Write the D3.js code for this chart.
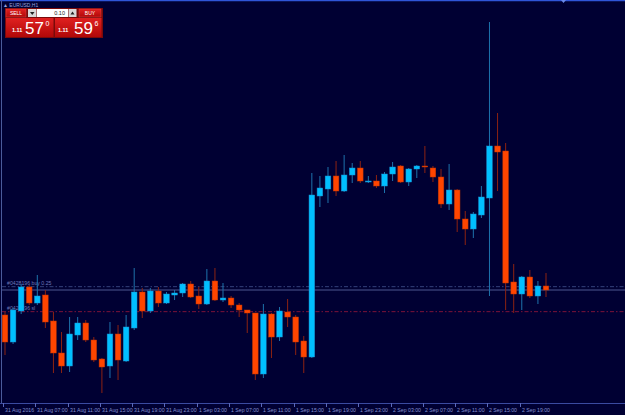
<!DOCTYPE html>
<html>
<head>
<meta charset="utf-8">
<script src="https://cdn.jsdelivr.net/npm/d3@7"></script>
<style>
    html, body { margin: 0; padding: 0; background: #000033; overflow: hidden; }
    svg { display: block; }
</style>
</head>
<body>
<svg id="chart" width="625" height="415"></svg>
<script>
// EURUSD H1 bars (first bar 31 Aug 03:00)
const opens = [
    1.11495, 1.11414, 1.11507, 1.11579, 1.11531, 1.11555, 1.11477, 1.11381, 1.11342, 1.11435,
    1.11471, 1.11420, 1.11363, 1.11342, 1.11438, 1.11357, 1.11456, 1.11564, 1.11507, 1.11567,
    1.11531, 1.11555, 1.11561, 1.11588, 1.11552, 1.11528, 1.11597, 1.11540, 1.11546, 1.11525,
    1.11510, 1.11501, 1.11318, 1.11498, 1.11429, 1.11504, 1.11489, 1.11417, 1.11369, 1.11852,
    1.11873, 1.11912, 1.11867, 1.11915, 1.11936, 1.11894, 1.11897, 1.11882, 1.11918, 1.11942,
    1.11894, 1.11933, 1.11942, 1.11936, 1.11909, 1.11828, 1.11870, 1.11783, 1.11753, 1.11795,
    1.11846, 1.12002, 1.11987, 1.11594, 1.11558, 1.11609, 1.11552, 1.11582
];
const highs = [
    1.11504, 1.11516, 1.11588, 1.11585, 1.11615, 1.11570, 1.11504, 1.11444, 1.11489, 1.11489,
    1.11480, 1.11429, 1.11366, 1.11474, 1.11465, 1.11495, 1.11636, 1.11576, 1.11576, 1.11579,
    1.11564, 1.11570, 1.11591, 1.11597, 1.11579, 1.11633, 1.11636, 1.11591, 1.11552, 1.11531,
    1.11510, 1.11501, 1.11528, 1.11501, 1.11519, 1.11543, 1.11495, 1.11432, 1.11921, 1.11912,
    1.11939, 1.11957, 1.11975, 1.11951, 1.11957, 1.11912, 1.11915, 1.11924, 1.11954, 1.11945,
    1.11936, 1.11945, 1.12002, 1.11942, 1.11933, 1.11948, 1.11873, 1.11807, 1.11804, 1.11882,
    1.12374, 1.12101, 1.12011, 1.11648, 1.11612, 1.11630, 1.11597, 1.11621
];
const lows = [
    1.11375, 1.11408, 1.11498, 1.11525, 1.11525, 1.11456, 1.11321, 1.11321, 1.11324, 1.11420,
    1.11414, 1.11354, 1.11261, 1.11306, 1.11300, 1.11354, 1.11450, 1.11486, 1.11501, 1.11519,
    1.11528, 1.11540, 1.11549, 1.11546, 1.11513, 1.11525, 1.11537, 1.11534, 1.11516, 1.11489,
    1.11441, 1.11300, 1.11306, 1.11366, 1.11417, 1.11459, 1.11375, 1.11321, 1.11366, 1.11819,
    1.11831, 1.11852, 1.11864, 1.11891, 1.11891, 1.11891, 1.11876, 1.11861, 1.11897, 1.11891,
    1.11882, 1.11906, 1.11921, 1.11894, 1.11816, 1.11810, 1.11744, 1.11705, 1.11726, 1.11786,
    1.11552, 1.11867, 1.11510, 1.11501, 1.11510, 1.11546, 1.11528, 1.11549
];
const closes = [
    1.11414, 1.11510, 1.11579, 1.11531, 1.11552, 1.11474, 1.11381, 1.11342, 1.11438, 1.11471,
    1.11420, 1.11360, 1.11339, 1.11438, 1.11360, 1.11459, 1.11564, 1.11507, 1.11567, 1.11531,
    1.11558, 1.11561, 1.11588, 1.11549, 1.11528, 1.11597, 1.11540, 1.11546, 1.11525, 1.11510,
    1.11501, 1.11318, 1.11498, 1.11429, 1.11507, 1.11489, 1.11414, 1.11369, 1.11855, 1.11876,
    1.11912, 1.11867, 1.11915, 1.11936, 1.11897, 1.11897, 1.11882, 1.11918, 1.11939, 1.11894,
    1.11933, 1.11942, 1.11939, 1.11909, 1.11828, 1.11870, 1.11783, 1.11753, 1.11798, 1.11849,
    1.12002, 1.11984, 1.11591, 1.11558, 1.11609, 1.11552, 1.11582, 1.11570
];

// time axis labels, one every 4 bars
const tickBars = [0, 4, 8, 12, 16, 20, 24, 28, 32, 36, 40, 44, 48, 52, 56, 60, 64];
const tickLabels = [
    '31 Aug 2016', '31 Aug 07:00', '31 Aug 11:00', '31 Aug 15:00', '31 Aug 19:00', '31 Aug 23:00',
    '1 Sep 03:00', '1 Sep 07:00', '1 Sep 11:00', '1 Sep 15:00', '1 Sep 19:00', '1 Sep 23:00',
    '2 Sep 03:00', '2 Sep 07:00', '2 Sep 11:00', '2 Sep 15:00', '2 Sep 19:00'
];

// order / price lines
const bidPrice = 1.11570;
const buyPrice = 1.11580;
const slPrice = 1.11505;
const orderLabels = ['#0428196 buy 0.25', '#0428196 sl'];

const bars = opens.map((o, i) => ({ i, o, h: highs[i], l: lows[i], c: closes[i] }));

const W = 625, H = 415;
const axisY = 403;
const svg = d3.select('#chart');

svg.append('rect').attr('width', W).attr('height', H).attr('fill', '#000033');

const x = d3.scaleLinear().domain([0, 67]).range([5, 546]);
const y = d3.scaleLinear().domain([1.11195, 1.12440]).range([H, 0]);

// frame
svg.append('line').attr('x1', 0).attr('x2', W).attr('y1', 0.5).attr('y2', 0.5)
    .attr('stroke', '#2f55d8').attr('stroke-width', 1.5);
svg.append('line').attr('x1', 1.5).attr('x2', 1.5).attr('y1', 0).attr('y2', axisY)
    .attr('stroke', '#4a5a9a').attr('stroke-width', 1);
svg.append('path').attr('d', 'M561,0 L566,0 L563.5,3 Z').attr('fill', '#6a8ae8');

// price lines
const lineG = svg.append('g');
lineG.append('line')
    .attr('x1', 2).attr('x2', W)
    .attr('y1', y(buyPrice)).attr('y2', y(buyPrice))
    .attr('stroke', '#34407a').attr('stroke-dasharray', '4,2,1.5,2');
lineG.append('line')
    .attr('x1', 2).attr('x2', W)
    .attr('y1', y(bidPrice)).attr('y2', y(bidPrice))
    .attr('stroke', '#4c5690').attr('stroke-width', 1);
lineG.append('line')
    .attr('x1', 2).attr('x2', W)
    .attr('y1', y(slPrice)).attr('y2', y(slPrice))
    .attr('stroke', '#7c1238').attr('stroke-dasharray', '4,2,1.5,2');

lineG.selectAll('text.order')
    .data([buyPrice, slPrice])
    .enter().append('text')
    .attr('x', 7)
    .attr('y', d => y(d) - 2)
    .attr('font-family', 'Liberation Sans, Arial, sans-serif')
    .attr('font-size', 5.2)
    .attr('fill', '#6c78b8')
    .text((d, i) => orderLabels[i]);

// candles
const bw = 5.6;
const upBody = '#00bfff', upWick = '#1d72ac';
const dnBody = '#ff4500', dnWick = '#8c2212';

const candles = svg.append('g').selectAll('g')
    .data(bars)
    .enter().append('g');

candles.append('line')
    .attr('x1', d => x(d.i)).attr('x2', d => x(d.i))
    .attr('y1', d => y(d.h)).attr('y2', d => y(d.l))
    .attr('stroke', d => d.c >= d.o ? upWick : dnWick)
    .attr('stroke-width', 1);

candles.append('rect')
    .attr('x', d => x(d.i) - bw / 2)
    .attr('width', bw)
    .attr('y', d => y(Math.max(d.o, d.c)))
    .attr('height', d => Math.max(1, Math.abs(y(d.o) - y(d.c))))
    .attr('fill', d => d.c >= d.o ? upBody : dnBody)
    .attr('stroke', d => d.c >= d.o ? '#1890d0' : '#c03600')
    .attr('stroke-width', 0.5);

// time axis
const axisG = svg.append('g');
axisG.append('line').attr('x1', 0).attr('x2', W).attr('y1', axisY + 0.5).attr('y2', axisY + 0.5)
    .attr('stroke', '#3a4aa0');
const tk = axisG.selectAll('g.tick')
    .data(tickBars)
    .enter().append('g')
    .attr('transform', d => `translate(${Math.round(x(d)) - 1.5},${axisY})`);
tk.append('line').attr('y1', 0).attr('y2', 4).attr('stroke', '#5a68b8');
tk.append('text')
    .attr('x', 1.5).attr('y', 8.5)
    .attr('font-family', 'Liberation Sans, Arial, sans-serif')
    .attr('font-size', 5.2)
    .attr('fill', '#8490d0')
    .text((d, i) => tickLabels[i]);

// symbol title
svg.append('text')
    .attr('x', 3).attr('y', 6.5)
    .attr('font-family', 'Liberation Sans, Arial, sans-serif')
    .attr('font-size', 5)
    .attr('fill', '#9aa2d8')
    .text('\u25B2 EURUSD,H1');

// one-click trading panel
const panel = svg.append('g');
const defs = svg.append('defs');
const grad = defs.append('linearGradient').attr('id', 'redg').attr('x1', 0).attr('x2', 0).attr('y1', 0).attr('y2', 1);
grad.append('stop').attr('offset', '0%').attr('stop-color', '#e02020');
grad.append('stop').attr('offset', '100%').attr('stop-color', '#b00808');

panel.append('rect').attr('x', 5).attr('y', 8).attr('width', 98).attr('height', 30).attr('fill', '#7a0a0a');
panel.append('rect').attr('x', 6).attr('y', 9).attr('width', 20).attr('height', 8).attr('fill', 'url(#redg)').attr('stroke', '#f05050').attr('stroke-width', 0.4);
panel.append('rect').attr('x', 79).attr('y', 9).attr('width', 22).attr('height', 8).attr('fill', 'url(#redg)').attr('stroke', '#f05050').attr('stroke-width', 0.4);
panel.append('rect').attr('x', 28).attr('y', 9).attr('width', 8.5).attr('height', 8).attr('fill', '#d8d8d8');
panel.append('rect').attr('x', 37).attr('y', 9).attr('width', 31).attr('height', 8).attr('fill', '#ffffff');
panel.append('rect').attr('x', 68.5).attr('y', 9).attr('width', 8).attr('height', 8).attr('fill', '#d8d8d8');
panel.append('path').attr('d', 'M30,12 L34.5,12 L32.25,15 Z').attr('fill', '#222');
panel.append('path').attr('d', 'M70.5,14.5 L74.5,14.5 L72.5,11.5 Z').attr('fill', '#222');

const small = (t, px, py, size, anchor, fill, weight) => panel.append('text')
    .attr('x', px).attr('y', py)
    .attr('font-family', 'Liberation Sans, Arial, sans-serif')
    .attr('font-size', size)
    .attr('font-weight', weight || 'normal')
    .attr('text-anchor', anchor)
    .attr('fill', fill)
    .text(t);

small('SELL', 16, 15, 5, 'middle', '#ffffff');
small('BUY', 90, 15, 5, 'middle', '#ffffff');
small('0.10', 65, 15.2, 5.5, 'end', '#222222');

panel.append('rect').attr('x', 6).attr('y', 18).attr('width', 47.5).attr('height', 19).attr('fill', 'url(#redg)');
panel.append('rect').attr('x', 55).attr('y', 18).attr('width', 46.5).attr('height', 19).attr('fill', 'url(#redg)');

small('1.11', 12, 32, 5.5, 'start', '#ffffff', 'bold');
small('57', 25, 34, 17, 'start', '#ffffff');
small('0', 45.5, 25.5, 7, 'start', '#ffffff');
small('1.11', 58, 32, 5.5, 'start', '#ffffff', 'bold');
small('59', 74, 34, 17, 'start', '#ffffff');
small('6', 94.5, 25.5, 7, 'start', '#ffffff');
</script>
</body>
</html>
